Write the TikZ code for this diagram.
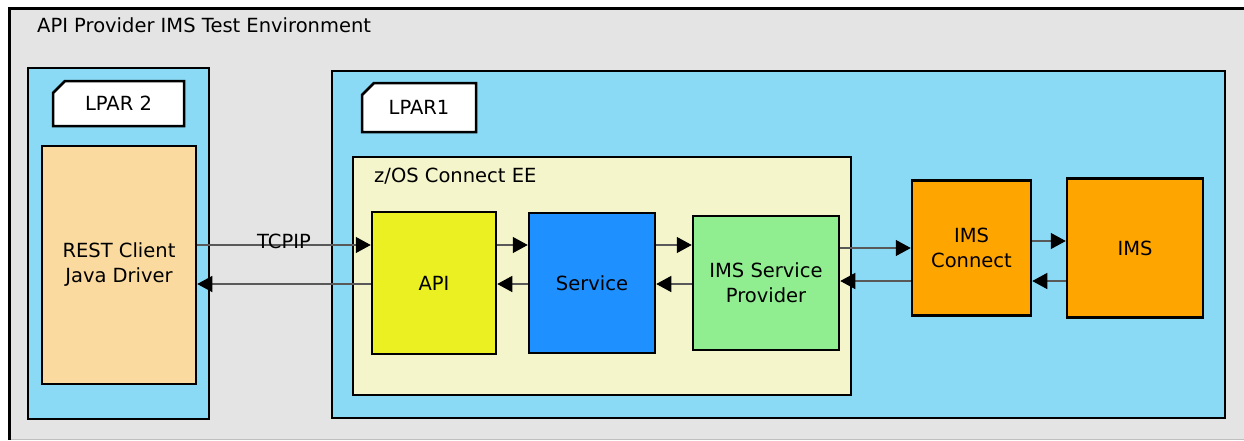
\documentclass[tikz,border=0pt]{standalone}
\usepackage{fontspec}
\setmainfont{DejaVu Sans}
\usepackage{tikz}
\usetikzlibrary{shapes,arrows,arrows.meta}
\definecolor{envgray}{RGB}{228,228,228}
\definecolor{lparblue}{RGB}{138,218,245}
\definecolor{restpeach}{RGB}{250,218,158}
\definecolor{zosyellow}{RGB}{245,245,203}
\definecolor{apiyellow}{RGB}{235,240,35}
\definecolor{serviceblue}{RGB}{30,144,255}
\definecolor{ispgreen}{RGB}{144,238,144}
\definecolor{imsorange}{RGB}{255,165,0}

\begin{document}
\begin{tikzpicture}[x=1pt,y=-1pt,>={Triangle[length=15pt,width=16pt,color=black]},font=\fontsize{19.5}{25}\selectfont]
\tikzstyle{box}=[draw=black,line width=2.5pt,text=black,align=center,inner sep=0pt]
\tikzstyle{tab}=[box,fill=white,chamfered rectangle,chamfered rectangle corners=north west,chamfered rectangle xsep=7pt,chamfered rectangle ysep=5pt]
\tikzstyle{link}=[->,draw=black!65,line width=1.3pt]
\useasboundingbox (0,0) rectangle (1244,440);
\clip (0,0) rectangle (1244,440);
% environment frame
\fill[envgray] (9,8) rectangle (1260,439);
\draw[black!25,line width=1pt] (9,439) -- (1260,439);
\draw[line width=3pt] (1260,8) -- (9,8) -- (9,440);
\node[anchor=base west,inner sep=0pt] (env) at (37,32) {API Provider IMS Test Environment};
% LPAR 2
\node[box,fill=lparblue,minimum width=181pt,minimum height=351pt] (L2) at (118.5,243.5) {};
\node[tab,minimum width=131pt,minimum height=45pt] (L2tab) at (118.5,103.5) {LPAR 2};
\node[box,fill=restpeach,minimum width=154pt,minimum height=238pt] (rest) at (119,265) {REST Client\\Java Driver};
% LPAR1
\node[box,fill=lparblue,minimum width=893pt,minimum height=347pt] (L1) at (778.5,244.5) {};
\node[tab,minimum width=114pt,minimum height=49pt] (L1tab) at (419,107.5) {LPAR1};
\node[box,fill=zosyellow,minimum width=498pt,minimum height=238pt] (zos) at (602,276) {};
\node[anchor=base west,inner sep=0pt] (zoslabel) at (374,182) {z/OS Connect EE};
\node[box,fill=apiyellow,minimum width=124pt,minimum height=142pt] (api) at (434,283) {API};
\node[box,fill=serviceblue,minimum width=126pt,minimum height=140pt] (service) at (592,283) {Service};
\node[box,fill=ispgreen,minimum width=146pt,minimum height=134pt] (isp) at (766,283) {IMS Service\\Provider};
\node[box,fill=imsorange,minimum width=119pt,minimum height=135pt] (imsc) at (971.5,248) {IMS\\Connect};
\node[box,fill=imsorange,minimum width=136pt,minimum height=139pt] (ims) at (1135,248) {IMS};
% connections
\path ([yshift=20pt]rest.east) edge[link] node[anchor=base,yshift=-3pt]{TCPIP} ([yshift=38pt]api.west)
      ([yshift=-1pt]api.west) edge[link] ([yshift=-19pt]rest.east)
      ([yshift=38pt]api.east) edge[link] ([yshift=38pt]service.west)
      ([yshift=-1pt]service.west) edge[link] ([yshift=-1pt]api.east)
      ([yshift=38pt]service.east) edge[link] ([yshift=38pt]isp.west)
      ([yshift=-1pt]isp.west) edge[link] ([yshift=-1pt]service.east)
      ([yshift=35pt]isp.east) edge[link] (imsc.west)
      ([yshift=-33pt]imsc.west) edge[link] ([yshift=2pt]isp.east)
      ([yshift=7pt]imsc.east) edge[link] ([yshift=7pt]ims.west)
      ([yshift=-33pt]ims.west) edge[link] ([yshift=-33pt]imsc.east);
\end{tikzpicture}
\end{document}
